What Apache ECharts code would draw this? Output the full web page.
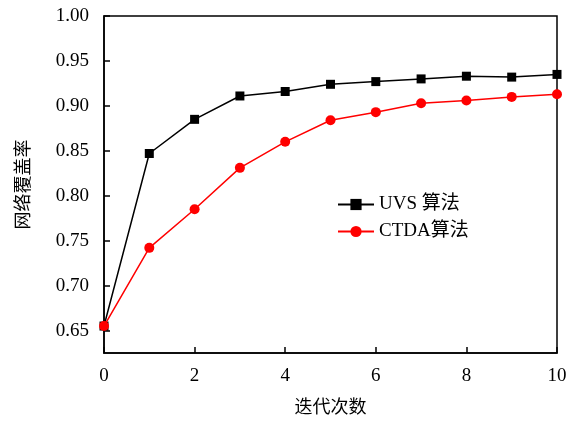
<!DOCTYPE html>
<html><head><meta charset="utf-8">
<script src="https://cdn.jsdelivr.net/npm/echarts@6/dist/echarts.min.js"></script>
<style>html,body{margin:0;padding:0;background:#fff}#c{width:575px;height:421px}</style>
</head><body><div id="c"></div>
<script>
const iterations = [0,1,2,3,4,5,6,7,8,9,10];
const uvsValues  = [0.655,0.847,0.885,0.911,0.916,0.924,0.927,0.930,0.933,0.932,0.935];
const ctdaValues = [0.655,0.742,0.785,0.831,0.860,0.884,0.893,0.903,0.906,0.910,0.913];
const yTicks = [0.65,0.70,0.75,0.80,0.85,0.90,0.95,1.00];
const xTicks = [0,2,4,6,8,10];
const seriesNames = ['UVS 算法','CTDA算法'];
const xName = '迭代次数';
const yName = '网络覆盖率';

const font = '"Liberation Serif","Noto Sans CJK SC",serif';
const chart = echarts.init(document.getElementById('c'));
chart.setOption({
  animation:false,
  backgroundColor:'#fff',
  grid:{left:104,right:18,top:16,bottom:68,show:true,borderColor:'#000',borderWidth:1.5,
        containLabel:false,outerBoundsMode:'none'},
  legend:{
    orient:'vertical',left:332,top:190,itemWidth:36,itemHeight:14,itemGap:8,
    textStyle:{fontFamily:font,fontSize:19,color:'#000'},
    data:seriesNames
  },
  xAxis:{
    type:'value',min:0,max:10,
    name:xName,nameLocation:'middle',nameGap:46,
    nameTextStyle:{fontFamily:font,fontSize:18,color:'#000'},
    axisLine:{lineStyle:{color:'#000',width:1.5}},
    axisTick:{inside:true,length:6,lineStyle:{color:'#000',width:1.5},customValues:xTicks},
    axisLabel:{fontFamily:font,fontSize:19,color:'#000',margin:14,customValues:xTicks},
    splitLine:{show:false}
  },
  yAxis:{
    type:'value',min:0.625,max:1.0,
    name:yName,nameLocation:'middle',nameGap:71,nameRotate:90,
    nameTextStyle:{fontFamily:font,fontSize:18,color:'#000'},
    axisLine:{lineStyle:{color:'#000',width:1.5}},
    axisTick:{inside:true,length:6,lineStyle:{color:'#000',width:1.5},customValues:yTicks},
    axisLabel:{fontFamily:font,fontSize:19,color:'#000',margin:15,customValues:yTicks,
      formatter:v=>v.toFixed(2)},
    splitLine:{show:false}
  },
  series:[
    {name:seriesNames[0],type:'line',data:iterations.map((x,i)=>[x,uvsValues[i]]),
     symbol:'rect',symbolSize:9,itemStyle:{color:'#000'},lineStyle:{color:'#000',width:1.5},z:3},
    {name:seriesNames[1],type:'line',data:iterations.map((x,i)=>[x,ctdaValues[i]]),
     symbol:'circle',symbolSize:10,itemStyle:{color:'#ff0000'},lineStyle:{color:'#ff0000',width:1.5},z:4}
  ]
});
</script></body></html>
